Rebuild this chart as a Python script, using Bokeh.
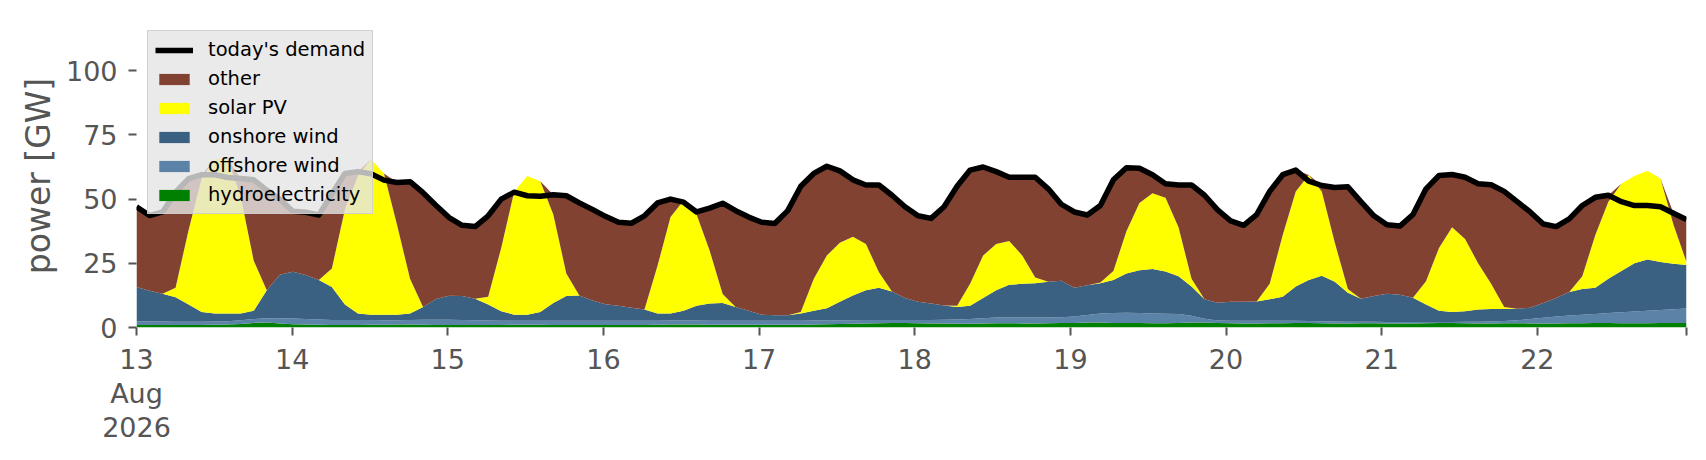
import pandas as pd
from bokeh.plotting import figure
from bokeh.models import (ColumnDataSource, Range1d, FixedTicker, Legend, LegendItem)
from bokeh.embed import file_html
from bokeh.resources import INLINE

# ---- data (GW), samples every ~2 h from 13 Aug 00:00 to 22 Aug 23:00 ----
start = "2026-08-13 00:00"
end = "2026-08-22 23:00"
n_samples = 120

hydro = [1.0, 1.0, 1.0, 1.0, 1.0, 1.0, 1.1, 1.2, 1.4, 1.8, 1.9, 1.6,
         1.3, 1.2, 1.1, 1.0, 1.0, 1.0, 1.1, 1.1, 1.2, 1.2, 1.1, 1.0,
         1.0, 1.0, 1.0, 1.0, 1.0, 1.1, 1.1, 1.1, 1.0, 1.0, 1.0, 1.0,
         1.0, 1.0, 1.0, 1.0, 1.1, 1.2, 1.2, 1.2, 1.1, 1.1, 1.1, 1.1,
         1.1, 1.1, 1.1, 1.1, 1.2, 1.3, 1.4, 1.5, 1.6, 1.7, 1.8, 1.8,
         1.7, 1.6, 1.6, 1.5, 1.5, 1.6, 1.7, 1.7, 1.6, 1.6, 1.7, 1.8,
         1.8, 1.9, 1.9, 1.8, 1.8, 1.8, 1.7, 1.7, 1.8, 1.9, 1.9, 1.8,
         1.7, 1.6, 1.6, 1.7, 1.7, 1.8, 1.8, 1.7, 1.6, 1.6, 1.7, 1.7,
         1.6, 1.6, 1.6, 1.7, 1.8, 1.8, 1.7, 1.6, 1.6, 1.7, 1.7, 1.6,
         1.6, 1.6, 1.7, 1.7, 1.8, 1.8, 1.7, 1.7, 1.7, 1.8, 1.8, 1.8]

offshore_wind = [1.4, 1.3, 1.3, 1.2, 1.2, 1.2, 1.2, 1.2, 1.4, 1.5, 1.7, 2.0,
                 2.2, 2.1, 2.0, 1.9, 1.9, 1.9, 1.8, 1.7, 1.6, 1.7, 1.9, 2.0,
                 2.0, 1.9, 1.8, 1.7, 1.6, 1.5, 1.5, 1.5, 1.6, 1.6, 1.6, 1.6,
                 1.6, 1.6, 1.6, 1.6, 1.5, 1.5, 1.5, 1.5, 1.5, 1.5, 1.5, 1.5,
                 1.5, 1.5, 1.5, 1.5, 1.5, 1.4, 1.4, 1.3, 1.3, 1.2, 1.1, 1.1,
                 1.2, 1.3, 1.4, 1.6, 1.8, 2.0, 2.2, 2.2, 2.3, 2.3, 2.2, 2.2,
                 2.5, 3.0, 3.6, 3.8, 3.9, 3.8, 3.8, 3.7, 3.5, 2.7, 1.5, 0.9,
                 0.9, 1.0, 1.0, 0.9, 0.9, 0.8, 0.7, 0.7, 0.7, 0.6, 0.5, 0.5,
                 0.5, 0.5, 0.5, 0.4, 0.3, 0.3, 0.5, 0.6, 0.7, 0.8, 1.1, 1.7,
                 2.2, 2.7, 3.0, 3.3, 3.5, 3.8, 4.2, 4.5, 4.8, 5.0, 5.3, 5.6]

onshore_wind = [13.4, 12.0, 10.8, 9.6, 6.8, 3.8, 3.2, 3.1, 2.7, 3.2, 10.9, 16.9,
                18.2, 17.1, 15.4, 12.9, 6.1, 2.6, 2.1, 2.2, 2.2, 2.6, 5.0, 8.1,
                9.4, 9.4, 8.4, 6.3, 3.7, 2.4, 2.4, 3.4, 6.9, 9.7, 9.9, 7.9,
                6.5, 5.9, 5.1, 4.4, 2.9, 2.8, 3.8, 5.8, 6.7, 6.9, 5.4, 3.9,
                2.4, 2.2, 2.2, 2.9, 3.8, 4.8, 7.2, 9.7, 11.6, 12.6, 11.1, 8.6,
                7.1, 6.4, 5.6, 4.9, 5.2, 7.9, 10.6, 12.7, 13.1, 13.3, 13.9, 14.2,
                11.2, 11.6, 11.7, 12.9, 15.3, 16.7, 17.3, 16.4, 14.7, 11.4, 7.6, 6.9,
                7.4, 7.4, 7.5, 8.4, 9.4, 13.4, 16.0, 17.8, 15.5, 11.3, 9.0, 10.1,
                11.0, 10.7, 9.5, 6.9, 4.4, 3.9, 4.1, 4.8, 4.9, 4.7, 4.5, 4.4,
                5.7, 7.2, 9.1, 10.0, 10.2, 13.4, 16.1, 18.8, 20.0, 18.7, 17.7, 16.9]

solar_pv = [0, 0, 0, 3.7, 29, 52, 60, 60, 45.5, 19.5, 0, 0,
            0, 0, 0, 7.2, 37, 53.5, 60.5, 55, 35, 13.5, 0, 0,
            0, 0, 0, 3, 24.7, 48, 54, 51, 34.5, 8.7, 0, 0,
            0, 0, 0, 0, 18.5, 37.5, 43, 35.5, 20.7, 3.5, 0, 0,
            0, 0, 0, 0.5, 12.5, 20.5, 23, 22.8, 18, 6, 0, 0,
            0, 0, 0, 0.5, 8.5, 16.5, 18, 17.1, 11, 2.3, 0, 0,
            0, 0, 0.3, 3.5, 16.5, 26.2, 29.5, 28.7, 19, 3, 0, 0,
            0, 0, 0, 6, 24, 37, 40.9, 32.8, 15.2, 1.5, 0, 0,
            0, 0, 0, 9, 24.5, 33, 28.2, 18, 9.8, 0.8, 0, 0,
            0, 0, 0, 5, 20.5, 30, 34, 34, 34.5, 32.5, 15.2, 1.2]

other = [31.2, 29.3, 31.9, 37.2, 20, 1.5, 0, 0, 7, 31.5, 39, 29.5,
         23.6, 24.5, 25.3, 29, 14, 1.7, 0, 0, 16.5, 37.8, 44.5, 36.4,
         30.4, 27.5, 28.1, 31.5, 19, 0, 0, 0, 7.7, 30.3, 36, 35.5,
         34.2, 32.5, 32.9, 36.5, 24.5, 7, 0, 1, 16.5, 35.4, 37.5, 36.5,
         36, 35.7, 40.7, 49, 41, 34.8, 28, 22.2, 23, 34, 37.5, 35.5,
         33.5, 33.2, 38.4, 46.5, 44.3, 34.5, 28.2, 24.8, 30.5, 39, 36.2, 29.8,
         29.5, 27.3, 30, 35.5, 24.7, 13.5, 7.2, 5.5, 16.5, 36.5, 40.5, 36.2,
         31.5, 29.8, 33.9, 36, 23.5, 8.3, 0, 2.3, 21.5, 39.8, 37.8, 31.2,
         26.9, 26.7, 32.4, 36, 28.2, 20.6, 24, 31, 38.6, 45, 41.7, 37.3,
         30.8, 27.8, 28.5, 27.5, 14.7, 2.5, 0, 0, 0, 0, 4.5, 16.5]

demand = [47, 43.6, 45, 52.7, 58, 59.5, 59.5, 58.4, 58, 57.5, 53.5, 50,
          45.3, 44.9, 43.8, 52, 60, 60.7, 59.9, 57.4, 56.5, 56.8, 52.5, 47.5,
          42.8, 39.8, 39.3, 43.5, 50, 52.7, 51.3, 51.1, 51.7, 51.3, 48.5, 46,
          43.3, 41, 40.6, 43.5, 48.5, 50, 48.8, 45, 46.5, 48.4, 45.5, 43,
          41, 40.5, 45.5, 55, 60, 62.8, 61, 57.5, 55.5, 55.5, 51.5, 47,
          43.5, 42.5, 47, 55, 61.3, 62.5, 60.7, 58.5, 58.5, 58.5, 54, 48,
          45, 43.8, 47.5, 57.5, 62.2, 62, 59.5, 56, 55.5, 55.5, 51.5, 45.8,
          41.5, 39.8, 44, 53, 59.5, 61.3, 57, 55.3, 54.5, 54.8, 49, 43.5,
          40, 39.5, 44, 54, 59.2, 59.6, 58.5, 56, 55.6, 53, 49, 45,
          40.3, 39.3, 42.3, 47.5, 50.7, 51.5, 49, 47.5, 47.5, 47, 44.5, 42]

series_names = ["hydroelectricity", "offshore wind", "onshore wind", "solar PV", "other"]
series_colors = ["#008000", "#5b82a7", "#3a6082", "#ffff00", "#814232"]
demand_label = "today's demand"

y_ticks = [0, 25, 50, 75, 100]
day_labels = ["13\nAug\n2026", "14", "15", "16", "17", "18", "19", "20", "21", "22"]

# ---- build ----
times = pd.date_range(start, end, periods=n_samples)
day_ticks = pd.date_range("2026-08-13", periods=len(day_labels), freq="D")
tick_ms = [t.timestamp() * 1000.0 for t in day_ticks]
end_ms = times[-1].timestamp() * 1000.0
overrides = dict(zip(tick_ms, day_labels))
overrides[end_ms] = ""

keys = ["hydro", "offshore", "onshore", "solar", "other"]
source = ColumnDataSource(dict(time=times, hydro=hydro, offshore=offshore_wind,
                               onshore=onshore_wind, solar=solar_pv, other=other,
                               demand=demand))

p = figure(frame_width=1550, frame_height=303, x_axis_type="datetime",
           output_backend="svg", toolbar_location=None,
           x_range=Range1d(times[0], times[-1]), y_range=Range1d(0, 118),
           min_border_left=136, min_border_right=12,
           min_border_top=24, min_border_bottom=110)

areas = p.varea_stack(stackers=keys, x="time", color=series_colors, source=source)
line = p.line("time", "demand", source=source, line_width=5.5, line_color="black",
              line_join="round")

items = [LegendItem(label=demand_label, renderers=[line])]
for idx in [4, 3, 2, 1, 0]:
    items.append(LegendItem(label=series_names[idx], renderers=[areas[idx]]))

legend = Legend(items=items, location=(11, 113), margin=0, padding=7,
                spacing=6, glyph_width=38, glyph_height=14, label_height=22,
                label_standoff=15,
                label_text_font="DejaVu Sans", label_text_font_size="19.5px",
                label_text_color="black",
                background_fill_color="#e5e5e5", background_fill_alpha=0.8,
                border_line_color="#cccccc", border_line_alpha=0.8,
                border_line_width=1)
p.add_layout(legend)

p.xaxis.ticker = FixedTicker(ticks=tick_ms + [end_ms])
p.xaxis.major_label_overrides = overrides
p.yaxis.ticker = FixedTicker(ticks=y_ticks)

for ax in (p.xaxis[0], p.yaxis[0]):
    ax.axis_line_color = None
    ax.major_tick_line_color = "#555555"
    ax.major_tick_line_width = 2
    ax.major_tick_out = 8
    ax.major_tick_in = 0
    ax.minor_tick_line_color = None
    ax.major_label_text_font = "DejaVu Sans"
    ax.major_label_text_font_size = "27px"
    ax.major_label_text_color = "#555555"

p.xaxis.major_label_standoff = 8
p.xaxis.major_label_text_line_height = 1.1
p.yaxis.major_label_standoff = 11
p.yaxis.axis_label = "power [GW]"
p.yaxis.axis_label_text_font = "DejaVu Sans"
p.yaxis.axis_label_text_font_size = "33px"
p.yaxis.axis_label_text_font_style = "normal"
p.yaxis.axis_label_text_color = "#555555"
p.yaxis.axis_label_standoff = 5

p.xgrid.grid_line_color = None
p.ygrid.grid_line_color = None
p.outline_line_color = None
p.background_fill_color = "white"
p.border_fill_color = "white"

open("out.html", "w").write(file_html(p, INLINE))
